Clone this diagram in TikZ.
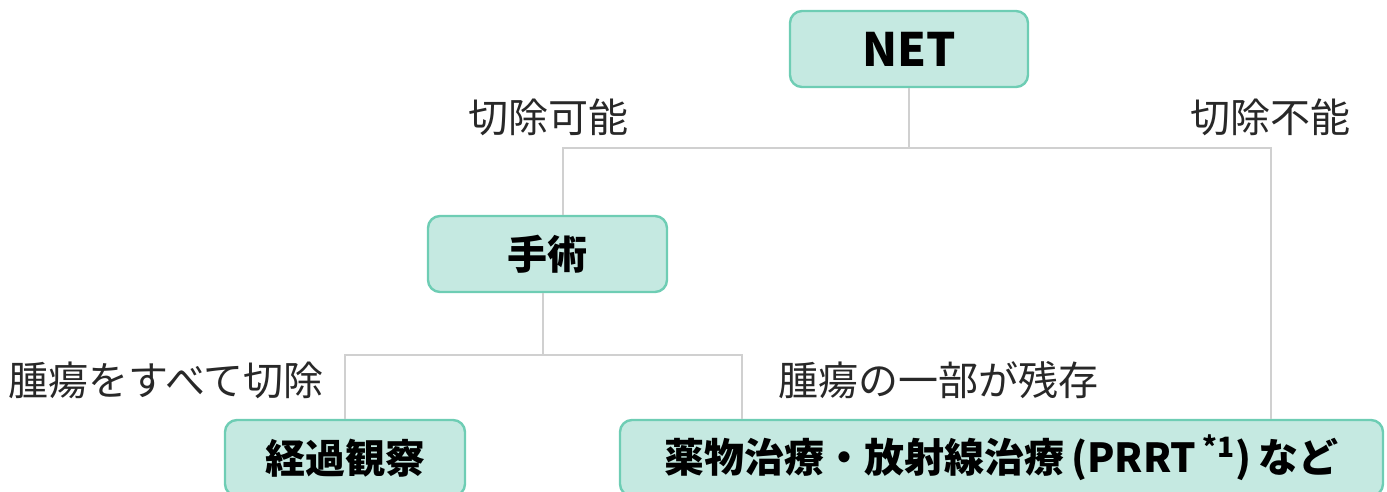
\documentclass[tikz,border=0pt]{standalone}
\usepackage{fontspec}
\setmainfont{Noto Sans CJK JP}
\usepackage{tikz}
\definecolor{boxfill}{RGB}{197, 233, 225}
\definecolor{boxline}{RGB}{110, 205, 180}
\definecolor{linkgray}{RGB}{208, 208, 208}
\definecolor{labelgray}{RGB}{40, 40, 40}

\tikzset{
  box/.style={draw=boxline, fill=boxfill, line width=1.2pt, rounded corners=6pt,
    minimum height=38pt, inner sep=0pt, font=\bfseries\fontsize{20}{20}\selectfont},
  link/.style={draw=linkgray, line width=1pt},
  branch/.style={text=labelgray, font=\fontsize{20}{20}\selectfont}
}

\begin{document}
\begin{tikzpicture}[x=0.5pt, y=-0.5pt]
  \useasboundingbox (0, 0) rectangle (1387, 492);

  % Root
  \node [box, minimum width=119pt] (net) at (909, 49) {\fontsize{23}{23}\selectfont NET};

  % First split
  \coordinate (splitL) at (563, 148);
  \coordinate (splitR) at (1271, 148);
  \node [branch] (resectable) at (548, 117) {切除可能};
  \node [branch] (unresectable) at (1270, 117) {切除不能};

  \node [box, minimum width=119.5pt] (surgery) at (547.5, 254) {手術};

  % Second split
  \coordinate (cutL) at (345, 355);
  \coordinate (cutR) at (742, 355);
  \node [branch] (allcut) at (166, 380) {腫瘍をすべて切除};
  \node [branch] (residual) at (938, 380) {腫瘍の一部が残存};

  \node [box, minimum width=120pt] (watch) at (345, 458) {経過観察};
  \node [box, minimum width=381.5pt] (therapy) at (1001.5, 458)
    {薬物治療・放射線治療\,(PRRT\,\textsuperscript{*1})\,など};

  % Links
  \draw [link] (net.south) -- (net.south |- splitL);
  \draw [link] (splitL |- surgery.north) -- (splitL) -- (splitR) -- (splitR |- therapy.north);
  \draw [link] (surgery.south -| 543, 0) -- (543, 355);
  \draw [link] (cutL |- watch.north) -- (cutL) -- (cutR) -- (cutR |- therapy.north);
\end{tikzpicture}
\end{document}
